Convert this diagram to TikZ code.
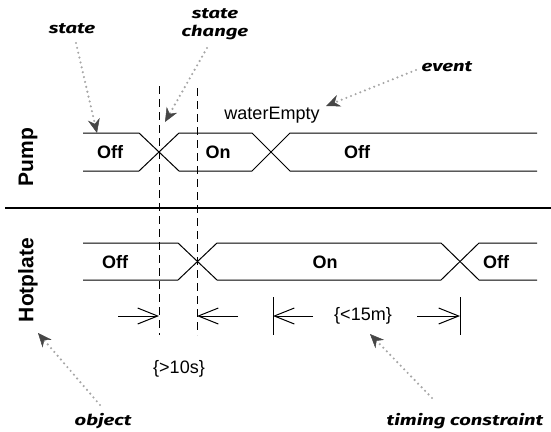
\documentclass[tikz,border=0pt]{standalone}
\usepackage{fontspec}
\setmainfont{Liberation Sans}
\newfontfamily\handfont{Fira Sans}
\usetikzlibrary{arrows.meta}
\newcommand{\hw}[1]{\scalebox{1.35}[1]{#1}}
\tikzset{
  wave/.style={line width=1pt,line join=miter},
  sep/.style={line width=2pt},
  guide/.style={line width=0.9pt,dash pattern=on 8pt off 5pt},
  tick/.style={line width=0.9pt},
  limit/.style={line width=1pt,-{Straight Barb[length=20pt,width=16pt,line width=1pt]}},
  note/.style={gray!70,line width=2.4pt,line cap=round,dash pattern=on 0pt off 5pt,
    -{Stealth[length=14pt,width=12pt,color=gray!55!black,fill=gray!55!black,line width=0.5pt]}},
  hand/.style={font=\handfont\bfseries\itshape\fontsize{15}{18}\selectfont,inner sep=1pt},
  statelbl/.style={font=\bfseries\fontsize{18}{20}\selectfont},
  lane/.style={font=\bfseries\fontsize{21}{24}\selectfont,rotate=90},
  plain/.style={font=\fontsize{18}{20}\selectfont},
}
\begin{document}
\begin{tikzpicture}[x=1pt,y=-1pt]
\useasboundingbox (0,0) rectangle (551,431);
% lane labels
\node[lane] (pump) at (28,157) {Pump};
\node[lane] (hot) at (28,280) {Hotplate};
% separator
\draw[sep] (5,208) -- (551,208);
% pump waveform
\draw[wave] (83,133) -- (139,133) -- (179,171) -- (252,171) -- (290,133) -- (537,133);
\draw[wave] (83,171) -- (139,171) -- (179,133) -- (252,133) -- (290,171) -- (537,171);
% hotplate waveform
\draw[wave] (83,243) -- (178,243) -- (217,280) -- (441,280) -- (479,243) -- (537,243);
\draw[wave] (83,280) -- (178,280) -- (217,243) -- (441,243) -- (479,280) -- (537,280);
% state labels
\node[statelbl] (p1) at (110,152) {Off};
\node[statelbl] (p2) at (218,152) {On};
\node[statelbl] (p3) at (357,152) {Off};
\node[statelbl] (h1) at (115,262) {Off};
\node[statelbl] (h2) at (325,262) {On};
\node[statelbl] (h3) at (496,262) {Off};
% event
\node[plain] (ev) at (272,115) {waterEmpty};
% guides
\coordinate (g1t) at (159,86);  \coordinate (g1b) at (159,335);
\coordinate (g2t) at (197,88);  \coordinate (g2b) at (197,335);
\draw[guide] (g1t) -- (g1b);
\draw[guide] (g2t) -- (g2b);
% ticks
\coordinate (t3t) at (273,297); \coordinate (t3b) at (273,335);
\coordinate (t4t) at (460,297); \coordinate (t4b) at (460,335);
\draw[tick] (t3t) -- (t3b);
\draw[tick] (t4t) -- (t4b);
% constraint arrows
\coordinate (a1s) at (118,316); \coordinate (a1e) at (159,316);
\coordinate (a2s) at (238,316); \coordinate (a2e) at (197,316);
\coordinate (a3s) at (313,316); \coordinate (a3e) at (273,316);
\coordinate (a4s) at (417,316); \coordinate (a4e) at (460,316);
\draw[limit] (a1s) -- (a1e);
\draw[limit] (a2s) -- (a2e);
\draw[limit] (a3s) -- (a3e);
\draw[limit] (a4s) -- (a4e);
\node[plain] (c1) at (179,369) {\{>10s\}};
\node[plain] (c2) at (363,316) {\{<15m\}};
% annotations
\node[hand] (nstate) at (72,29) {\hw{state}};
\node[hand,align=center] (nchange) at (215,24) {\hw{state}\\\hw{change}};
\node[hand] (nevent) at (447,67) {\hw{event}};
\node[hand] (nobject) at (103,421) {\hw{object}};
\node[hand] (ntiming) at (465,421) {\hw{timing constraint}};
\coordinate (sstate) at (76,43);
\coordinate (schange) at (207,48);
\coordinate (sevent) at (416,70);
\coordinate (sobject) at (100,405);
\coordinate (stiming) at (432,398);
\coordinate (xstate) at (97,133);
\coordinate (xchange) at (165,122);
\coordinate (xevent) at (326,106);
\coordinate (xobject) at (38,333);
\coordinate (xtiming) at (370,334);
\draw[note] (sstate) -- (xstate);
\draw[note] (schange) -- (xchange);
\draw[note] (sevent) -- (xevent);
\draw[note] (sobject) -- (xobject);
\draw[note] (stiming) -- (xtiming);
\end{tikzpicture}
\end{document}
